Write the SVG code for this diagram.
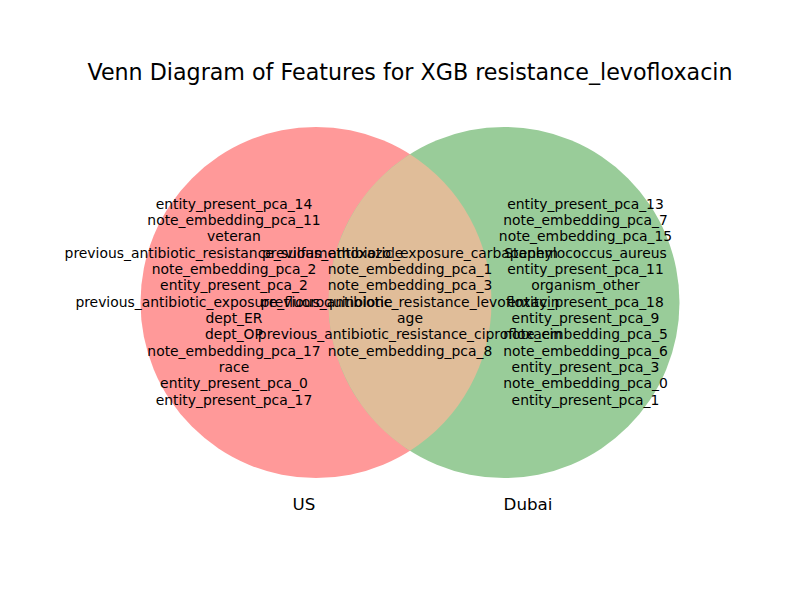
<svg xmlns="http://www.w3.org/2000/svg" width="800" height="600" viewBox="0 0 800 600">
<style>
text{font-family:"DejaVu Sans","Liberation Sans",sans-serif;fill:#000}
.t{font-size:22.2px;text-anchor:middle}
.lab{font-size:13.9px;text-anchor:middle}
.set{font-size:16.7px;text-anchor:middle}
</style>
<rect width="800" height="600" fill="#fff"/>
<text class="t" x="410" y="79.5">Venn Diagram of Features for XGB resistance_levofloxacin</text>
<g id="US">
<circle cx="316" cy="302.5" r="175.5" fill="#ff9999"/>
</g>
<g id="Dubai">
<circle cx="504" cy="302.5" r="175.5" fill="#99cc99"/>
</g>
<g id="intersection">
<path d="M410,154.3 A175.5,175.5 0 0 1 410,450.7 A175.5,175.5 0 0 1 410,154.3 Z" fill="#e0bd99"/>
</g>
<g id="connectors"></g>
<g id="US-labels" class="lab">
<text class="lab" x="234" y="208.5">entity_present_pca_14</text>
<text class="lab" x="234" y="224.8">note_embedding_pca_11</text>
<text class="lab" x="234" y="241.2">veteran</text>
<text class="lab" x="234" y="257.5">previous_antibiotic_resistance_sulfamethoxazole</text>
<text class="lab" x="234" y="273.8">note_embedding_pca_2</text>
<text class="lab" x="234" y="290.2">entity_present_pca_2</text>
<text class="lab" x="234" y="306.5">previous_antibiotic_exposure_fluoroquinolone</text>
<text class="lab" x="234" y="322.8">dept_ER</text>
<text class="lab" x="234" y="339.2">dept_OP</text>
<text class="lab" x="234" y="355.5">note_embedding_pca_17</text>
<text class="lab" x="234" y="371.8">race</text>
<text class="lab" x="234" y="388.2">entity_present_pca_0</text>
<text class="lab" x="234" y="404.5">entity_present_pca_17</text>
</g>
<g id="both-labels">
<text class="lab" x="410" y="257.5">previous_antibiotic_exposure_carbapenem</text>
<text class="lab" x="410" y="273.8">note_embedding_pca_1</text>
<text class="lab" x="410" y="290.2">note_embedding_pca_3</text>
<text class="lab" x="410" y="306.5">previous_antibiotic_resistance_levofloxacin</text>
<text class="lab" x="410" y="322.8">age</text>
<text class="lab" x="410" y="339.2">previous_antibiotic_resistance_ciprofloxacin</text>
<text class="lab" x="410" y="355.5">note_embedding_pca_8</text>
</g>
<g id="Dubai-labels">
<text class="lab" x="585.5" y="208.5">entity_present_pca_13</text>
<text class="lab" x="585.5" y="224.8">note_embedding_pca_7</text>
<text class="lab" x="585.5" y="241.2">note_embedding_pca_15</text>
<text class="lab" x="585.5" y="257.5">Staphylococcus_aureus</text>
<text class="lab" x="585.5" y="273.8">entity_present_pca_11</text>
<text class="lab" x="585.5" y="290.2">organism_other</text>
<text class="lab" x="585.5" y="306.5">entity_present_pca_18</text>
<text class="lab" x="585.5" y="322.8">entity_present_pca_9</text>
<text class="lab" x="585.5" y="339.2">note_embedding_pca_5</text>
<text class="lab" x="585.5" y="355.5">note_embedding_pca_6</text>
<text class="lab" x="585.5" y="371.8">entity_present_pca_3</text>
<text class="lab" x="585.5" y="388.2">note_embedding_pca_0</text>
<text class="lab" x="585.5" y="404.5">entity_present_pca_1</text>
</g>
<g id="set-labels">
<text class="set" x="304" y="510">US</text>
<text class="set" x="528" y="510">Dubai</text>
</g>
</svg>
